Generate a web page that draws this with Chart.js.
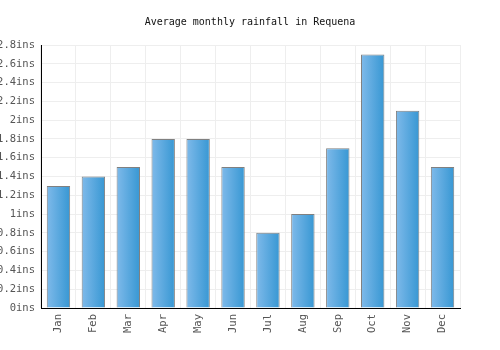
<!DOCTYPE html>
<html>
<head>
<meta charset="utf-8">
<script src="https://cdn.jsdelivr.net/npm/chart.js@4"></script>
<style>
  html, body { margin: 0; padding: 0; background: #fff; }
  #wrap { width: 500px; height: 350px; }
</style>
</head>
<body>
<div id="wrap"><canvas id="chart" width="500" height="350"></canvas></div>
<script>
(function () {
    "use strict";

    const months = ['Jan', 'Feb', 'Mar', 'Apr', 'May', 'Jun', 'Jul', 'Aug', 'Sep', 'Oct', 'Nov', 'Dec'];
    const rainfall = [1.3, 1.4, 1.5, 1.8, 1.8, 1.5, 0.8, 1.0, 1.7, 2.7, 2.1, 1.5];
    const yMax = 2.8;
    const yStep = 0.2;

    const barPct = 0.67;
    const mono = "'DejaVu Sans Mono', monospace";

    // horizontal gradient per bar, light on the left, darker on the right
    function barFill(ctx) {
        const chart = ctx.chart;
        const x = chart.scales.x;
        if (!x || ctx.dataIndex === undefined) return '#5aa9e0';
        const cx = x.getPixelForValue(ctx.dataIndex);
        const w = x.width / months.length * barPct;
        if (!isFinite(cx) || !isFinite(w) || w <= 0) return '#5aa9e0';
        const g = chart.ctx.createLinearGradient(cx - w / 2, 0, cx + w / 2, 0);
        g.addColorStop(0, '#7fbaea');
        g.addColorStop(1, '#3797d3');
        return g;
    }

    Chart.defaults.font.family = mono;

    new Chart(document.getElementById('chart'), {
        type: 'bar',
        data: {
            labels: months,
            datasets: [{
                data: rainfall,
                backgroundColor: barFill,
                borderColor: '#808080',
                borderWidth: 1,
                barPercentage: barPct,
                categoryPercentage: 1
            }]
        },
        options: {
            responsive: false,
            animation: false,
            layout: { padding: { top: 6, right: 0, left: 0, bottom: 0 } },
            plugins: {
                legend: { display: false },
                tooltip: { enabled: false },
                title: {
                    display: true,
                    text: 'Average monthly rainfall in Requena',
                    color: '#111',
                    font: { family: mono, size: 10, weight: 'normal' },
                    padding: { top: 10, bottom: 17 }
                }
            },
            scales: {
                x: {
                    grid: { color: '#eeeeee', offset: true, drawTicks: false },
                    border: { color: '#000', width: 1 },
                    ticks: {
                        color: '#555',
                        font: { size: 10.5 },
                        minRotation: 90,
                        maxRotation: 90,
                        padding: 6
                    },
                    afterFit: function (s) { s.height = 42; }
                },
                y: {
                    min: 0,
                    max: yMax,
                    grid: { color: '#eeeeee', drawTicks: false },
                    border: { color: '#000', width: 1 },
                    ticks: {
                        stepSize: yStep,
                        color: '#555',
                        font: { size: 10.5 },
                        padding: 6,
                        callback: function (v) { return (Math.round(v * 10) / 10) + 'ins'; }
                    },
                    afterFit: function (s) { s.width = 41; }
                },
                // empty right-hand space so the title stays centred on the canvas
                yRight: {
                    position: 'right',
                    grid: { display: false },
                    border: { display: false },
                    ticks: { display: false },
                    afterFit: function (s) { s.width = 40; }
                }
            }
        }
    });
})();
</script>
</body>
</html>
